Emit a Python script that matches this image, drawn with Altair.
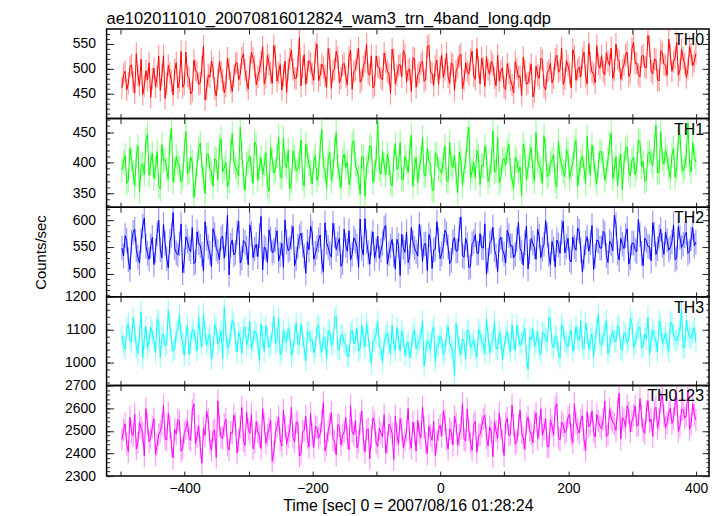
import math
import altair as alt
import pandas as pd

FONT = "Liberation Sans"
TITLE = "ae102011010_20070816012824_wam3_trn_4band_long.qdp"
X_TITLE = "Time [sec] 0 = 2007/08/16 01:28:24"
Y_TITLE = "Counts/sec"

# readings sampled every 5 s (series A) and the interleaved readings 2.5 s later (series B)
TIME_A_START = -498
TIME_B_START = -495.5
TIME_STEP = 5
X_DOMAIN = [-522, 420]
X_TICKS = [-500, -400, -300, -200, -100, 0, 100, 200, 300, 400]
X_LABELS = [-400, -200, 0, 200, 400]

TH0_A = [462, 495, 471, 508, 452, 487, 519, 466, 478, 443,
         501, 484, 457, 526, 470, 491, 448, 512, 475, 463,
         533, 482, 455, 497, 469, 504, 438, 488, 515, 461,
         479, 494, 452, 521, 473, 486,
         512, 489, 530, 476, 503, 521, 468, 497, 544, 483,
         509, 471, 526, 492, 458, 515, 499, 537, 481, 505,
         466, 528, 494, 511, 477, 549, 488, 502, 463, 519,
         496, 535, 472, 507, 485, 523, 459, 498, 541, 479,
         513, 490, 526, 467, 504, 482, 531, 495, 451, 518,
         487, 509, 536, 474, 500, 522, 463, 493, 515, 480,
         547, 491, 506, 469, 527, 498, 484, 512, 457, 503,
         529, 477, 495, 518, 486, 540, 470, 501, 524, 489,
         508, 466,
         476, 502, 459, 491, 468, 514, 483, 447, 497, 472,
         509, 455, 488, 521, 464, 493,
         511, 482, 527, 498, 469, 516, 490, 538, 477, 503,
         521, 486, 550, 494, 472, 509,
         526, 488, 515, 541, 497, 520, 479, 508, 533, 492,
         553, 511, 484, 527, 502, 545, 490, 518, 476, 531,
         506, 559, 495, 522, 487, 538, 510, 499, 529, 515]
TH0_B = [489, 458, 503, 474, 530, 467, 449, 496, 512, 481,
         464, 525, 487, 441, 507, 476, 498, 462, 534, 470,
         485, 450, 517, 493, 472, 545, 459, 483, 501, 446,
         514, 478, 466, 499, 455, 510,
         478, 521, 497, 460, 533, 505, 484, 514, 470, 527,
         492, 546, 475, 508, 487, 453, 519, 498, 481, 562,
         503, 469, 516, 490, 532, 476, 509, 486, 540, 461,
         499, 522, 481, 511, 468, 536, 494, 518, 473, 505,
         549, 487, 462, 525, 501, 478, 513, 490, 539, 470,
         506, 484, 528, 497, 455, 520, 488, 510, 475, 544,
         493, 467, 517, 502, 483, 531, 471, 508, 496, 524,
         460, 512, 489, 535, 479, 503, 521, 465, 498, 515,
         482, 527,
         495, 463, 510, 478, 452, 500, 486, 523, 469, 491,
         444, 505, 481, 517, 458, 497,
         472, 519, 493, 541, 480, 506, 462, 525, 498, 484,
         533, 470, 512, 489, 546, 501,
         494, 532, 507, 481, 549, 516, 498, 527, 485, 540,
         511, 489, 524, 503, 566, 495, 519, 478, 536, 509,
         487, 528, 514, 552, 497, 521, 483, 544, 506, 530]

TH1_A = [388, 412, 371, 405, 362, 427, 394, 381, 446, 399,
         374, 418, 357, 403, 389, 435, 368, 410, 392, 377,
         451, 386, 401, 365, 423, 396, 349, 414, 383, 407,
         372, 439, 391, 360, 419, 402, 385, 458, 376, 397,
         411, 366, 428, 393, 380, 416, 353, 404, 388, 442,
         375, 399, 421, 369, 408, 390, 437, 362, 413, 384,
         400, 371, 426, 395, 358, 417, 387, 449, 379, 405,
         392, 364, 431, 398, 376, 410, 345, 402, 423, 386,
         467, 381, 396, 414, 368, 405, 389, 433, 373, 400,
         419, 361, 408, 393, 441, 378, 402, 356, 415, 390,
         382, 427, 369, 398, 412, 351, 406, 388, 438, 375,
         401, 420, 364, 394, 410, 379, 452, 387, 367, 404,
         396, 430, 373, 409, 384, 346, 416, 392, 425, 370,
         403, 389, 444, 377, 399, 413, 360, 407, 386, 421,
         374, 398, 436, 383, 411, 366, 402, 429, 380, 395,
         417, 371, 405, 448, 388, 362, 414, 399, 426, 378,
         409, 391, 434, 402, 372, 418, 395, 461, 384, 406,
         421, 389, 412, 376, 439, 400, 393, 465, 385, 410]
TH1_B = [401, 366, 423, 384, 410, 352, 398, 437, 379, 415,
         391, 362, 429, 405, 373, 456, 387, 399, 368, 420,
         382, 409, 343, 396, 432, 375, 413, 390, 361, 404,
         427, 385, 400, 369, 447, 393, 378, 416, 355, 402,
         388, 434, 371, 408, 396, 363, 425, 383, 411, 377,
         440, 392, 357, 419, 386, 403, 374, 430, 397, 365,
         412, 381, 454, 389, 406, 370, 422, 394, 359, 414,
         401, 376, 436, 387, 348, 409, 393, 428, 368, 405,
         390, 418, 380, 399, 362, 431, 395, 372, 410, 384,
         445, 391, 367, 406, 379, 424, 398, 354, 413, 388,
         404, 371, 433, 392, 380, 417, 363, 402, 458, 386,
         375, 411, 395, 427, 369, 400, 384, 441, 376, 407,
         418, 389, 358, 403, 393, 430, 372, 411, 385, 449,
         396, 365, 420, 381, 405, 370, 435, 398, 377, 414,
         388, 426, 361, 402, 391, 443, 379, 408, 366, 419,
         399, 385, 432, 374, 410, 395, 356, 422, 387, 404,
         380, 437, 393, 369, 415, 402, 428, 383, 451, 397,
         408, 375, 424, 392, 446, 386, 412, 399, 433, 401]

TH2_A = [548, 571, 526, 559, 583, 531, 562, 604, 538, 552,
         517, 575, 545, 592, 528, 561, 614, 539, 556, 502,
         569, 547, 586, 522, 558, 536, 597, 550, 513, 573,
         541, 566, 529, 609, 553, 535, 577, 520, 562, 548,
         591, 530, 555, 571, 507, 546, 582, 539, 563, 524,
         557, 600, 543, 568, 515, 551, 576, 533, 560, 589,
         527, 549, 572, 504, 558, 538, 594, 545, 566, 521,
         553, 580, 536, 561, 512, 547, 603, 540, 557, 529,
         570, 544, 585, 518, 552, 535, 564, 497, 549, 578,
         532, 559, 541, 592, 523, 556, 573, 510, 546, 563,
         537, 581, 550, 525, 568, 543, 606, 531, 554, 514,
         560, 539, 575, 548, 499, 557, 587, 534, 562, 545,
         520, 571, 552, 536, 596, 541, 558, 509, 566, 549,
         583, 530, 555, 572, 517, 546, 563, 538, 598, 551,
         527, 568, 544, 579, 503, 558, 542, 590, 533, 561,
         548, 575, 521, 556, 609, 539, 566, 547, 584, 530,
         557, 541, 573, 515, 562, 550, 595, 536, 569, 553,
         578, 544, 560, 526, 588, 549, 571, 538, 565, 552]
TH2_B = [533, 562, 508, 577, 545, 520, 589, 551, 527, 568,
         543, 600, 530, 557, 511, 572, 548, 535, 593, 524,
         561, 541, 519, 578, 552, 505, 566, 539, 584, 547,
         526, 570, 555, 498, 563, 540, 598, 529, 558, 517,
         574, 546, 532, 607, 550, 521, 565, 543, 580, 536,
         512, 559, 547, 588, 528, 569, 553, 501, 545, 576,
         538, 563, 522, 595, 549, 531, 571, 556, 514, 583,
         542, 526, 567, 551, 602, 535, 560, 518, 578, 544,
         529, 557, 590, 537, 564, 509, 553, 574, 540, 521,
         586, 548, 533, 569, 555, 506, 562, 544, 597, 528,
         551, 575, 519, 560, 542, 582, 534, 566, 511, 556,
         573, 538, 549, 593, 525, 561, 545, 504, 568, 537,
         581, 552, 530, 564, 547, 516, 589, 541, 557, 527,
         570, 546, 599, 535, 560, 513, 554, 577, 539, 566,
         522, 550, 585, 544, 531, 569, 558, 508, 563, 548,
         579, 534, 561, 543, 592, 526, 555, 571, 518, 557,
         545, 601, 538, 566, 551, 524, 574, 547, 583, 536,
         562, 549, 591, 530, 568, 555, 577, 542, 586, 559]

TH3_A = [1082, 1041, 1119, 1063, 1097, 1028, 1155, 1074, 1046, 1108,
         1069, 1132, 1017, 1088, 1059, 1113, 1036, 1094, 1146, 1061,
         1080, 1025, 1103, 1067, 1139, 1050, 1091, 1073, 1011, 1117,
         1058, 1096, 1170, 1044, 1085, 1120, 1033, 1076, 1101, 1054,
         1126, 1065, 1089, 1007, 1079, 1112, 1047, 1093, 1060, 1135,
         1038, 1071, 1104, 1022, 1083, 1057, 1118, 1045, 1092, 1066,
         1030, 1108, 1052, 1077, 1013, 1095, 1061, 1141, 1040, 1084,
         1056, 1019, 1099, 1068, 1035, 1114, 1049, 1081, 998, 1072,
         1125, 1043, 1063, 1090, 1027, 1058, 1107, 1037, 1078, 1051,
         1016, 1086, 1042, 1069, 1128, 1032, 1060, 1095, 1004, 1053,
         1075, 1039, 1111, 1048, 962, 1082, 1025, 1064, 1100, 1046,
         1070, 1018, 1087, 1055, 1134, 1031, 1066, 1044, 1093, 1009,
         1078, 1057, 1116, 1038, 1083, 1062, 1105, 981, 1071, 1049,
         1097, 1026, 1088, 1064, 1130, 1045, 1076, 1015, 1102, 1059,
         1084, 1036, 1110, 1068, 1050, 1121, 1041, 1089, 1072, 1148,
         1054, 1095, 1029, 1081, 1067, 1113, 1043, 1092, 1061, 1136,
         1047, 1085, 1109, 1052, 1074, 1024, 1099, 1066, 1127, 1058,
         1091, 1035, 1118, 1070, 1083, 1162, 1049, 1096, 1075, 1107]
TH3_B = [1056, 1103, 1072, 1138, 1049, 1087, 1015, 1110, 1065, 1093,
         1031, 1124, 1078, 1052, 1160, 1070, 1041, 1099, 1083, 1022,
         1114, 1060, 1095, 1037, 1077, 1149, 1053, 1086, 1046, 1102,
         1071, 1013, 1090, 1058, 1131, 1066, 1092, 1029, 1109, 1075,
         1044, 1097, 1062, 1118, 1035, 1081, 1055, 1142, 1068, 1024,
         1100, 1063, 1087, 1040, 1121, 1057, 1079, 1006, 1094, 1070,
         1048, 1115, 1032, 1074, 1099, 1053, 1134, 1042, 1085, 1063,
         1021, 1091, 1058, 1106, 1045, 1077, 1120, 1036, 1066, 1088,
         1050, 1003, 1082, 1061, 1115, 1039, 1070, 1097, 1023, 1064,
         1044, 1101, 1057, 1079, 991, 1068, 1038, 1109, 1052, 1080,
         1026, 1087, 1061, 1035, 1119, 1047, 1073, 1012, 1094, 1056,
         1040, 1102, 1067, 1029, 1083, 1059, 1125, 1042, 1075, 1051,
         1096, 1034, 1069, 1113, 1054, 1087, 1020, 1078, 1104, 1063,
         1041, 1092, 1072, 1138, 1055, 1083, 1030, 1116, 1066, 1048,
         1099, 1061, 1077, 1127, 1043, 1090, 1070, 1017, 1104, 1059,
         1082, 1129, 1050, 1095, 1064, 1108, 1038, 1086, 1072, 1119,
         1060, 1101, 1046, 1088, 1139, 1069, 1080, 1033, 1112, 1074,
         1056, 1124, 1085, 1067, 1096, 1045, 1130, 1078, 1093, 1063]

TH0123_A = [2462, 2531, 2408, 2495, 2574, 2447, 2512, 2389, 2528, 2470,
            2553, 2436, 2498, 2612, 2459, 2517, 2380, 2486, 2541, 2425,
            2508, 2466, 2590, 2443, 2521, 2357, 2480, 2549, 2414, 2503,
            2632, 2471, 2527, 2438, 2494, 2569, 2402, 2515, 2456, 2583,
            2489, 2421, 2540, 2477, 2598, 2444, 2510, 2366, 2492, 2560,
            2432, 2519, 2475, 2604, 2451, 2536, 2399, 2501, 2468, 2577,
            2427, 2514, 2485, 2625, 2440, 2530, 2461, 2393, 2522, 2479,
            2558, 2417, 2496, 2545, 2452, 2588, 2407, 2509, 2473, 2536,
            2430, 2490, 2571, 2448, 2515, 2374, 2482, 2553, 2426, 2499,
            2466, 2538, 2411, 2487, 2606, 2445, 2520, 2458, 2391, 2505,
            2476, 2547, 2420, 2493, 2564, 2437, 2511, 2462, 2596, 2449,
            2528, 2405, 2484, 2552, 2470, 2517, 2386, 2500, 2579, 2455,
            2534, 2478, 2613, 2441, 2523, 2492, 2418, 2561, 2486, 2539,
            2464, 2597, 2507, 2432, 2548, 2481, 2620, 2459, 2526, 2501,
            2574, 2447, 2535, 2490, 2566, 2413, 2518, 2587, 2472, 2543,
            2508, 2631, 2484, 2556, 2529, 2598, 2463, 2547, 2611, 2495,
            2569, 2521, 2642, 2503, 2585, 2538, 2475, 2604, 2552, 2660,
            2514, 2578, 2532, 2625, 2497, 2592, 2556, 2680, 2529, 2571]
TH0123_B = [2503, 2441, 2560, 2478, 2420, 2537, 2491, 2598, 2452, 2516,
            2395, 2482, 2527, 2463, 2578, 2434, 2505, 2550, 2410, 2492,
            2543, 2457, 2619, 2475, 2429, 2511, 2586, 2448, 2497, 2383,
            2524, 2466, 2551, 2415, 2488, 2532, 2459, 2603, 2436, 2506,
            2573, 2450, 2494, 2422, 2530, 2479, 2547, 2405, 2518, 2461,
            2590, 2443, 2503, 2471, 2539, 2388, 2496, 2564, 2428, 2485,
            2520, 2467, 2545, 2412, 2500, 2581, 2454, 2527, 2437, 2495,
            2468, 2611, 2482, 2425, 2533, 2463, 2500, 2376, 2557, 2446,
            2512, 2474, 2402, 2529, 2488, 2565, 2441, 2507, 2459, 2598,
            2423, 2489, 2547, 2470, 2515, 2399, 2480, 2542, 2451, 2524,
            2587, 2460, 2509, 2437, 2533, 2480, 2621, 2455, 2502, 2414,
            2541, 2478, 2519, 2568, 2433, 2497, 2540, 2466, 2512, 2391,
            2555, 2487, 2524, 2453, 2591, 2470, 2531, 2502, 2446, 2579,
            2515, 2480, 2553, 2428, 2521, 2604, 2469, 2538, 2491, 2560,
            2485, 2619, 2507, 2546, 2461, 2584, 2530, 2496, 2572, 2520,
            2549, 2475, 2597, 2538, 2501, 2666, 2559, 2516, 2582, 2543,
            2610, 2527, 2565, 2489, 2633, 2552, 2588, 2511, 2627, 2566,
            2537, 2601, 2553, 2645, 2520, 2594, 2568, 2506, 2619, 2548]

NAMES = ["TH0", "TH1", "TH2", "TH3", "TH0123"]
SERIES_A = [TH0_A, TH1_A, TH2_A, TH3_A, TH0123_A]
SERIES_B = [TH0_B, TH1_B, TH2_B, TH3_B, TH0123_B]
ERRORS = [22, 20, 23, 33, 50]
COLORS = ["#ff0000", "#00ff00", "#0000ff", "#00ffff", "#ff00ff"]
Y_DOMAINS = [[401, 579], [327, 472], [457, 624], [932, 1200], [2300, 2700]]
Y_MAJOR = [[450, 500, 550], [350, 400, 450], [500, 550, 600],
           [1000, 1100, 1200], [2300, 2400, 2500, 2600, 2700]]
Y_MINOR_STEP = [10, 10, 10, 20, 20]
HEIGHTS = [90, 89, 90, 89, 91]
W = 605


def panel(i):
    name, err = NAMES[i], ERRORS[i]
    color, dom, major, mstep, H = COLORS[i], Y_DOMAINS[i], Y_MAJOR[i], Y_MINOR_STEP[i], HEIGHTS[i]
    a, b = SERIES_A[i], SERIES_B[i]
    dfa = pd.DataFrame({"t": [TIME_A_START + TIME_STEP * k for k in range(len(a))], "v": a})
    dfb = pd.DataFrame({"t": [TIME_B_START + TIME_STEP * k for k in range(len(b))], "v": b})
    df = pd.concat([dfa, dfb]).sort_values("t").reset_index(drop=True)
    df["lo"] = df["v"] - err
    df["hi"] = df["v"] + err
    minor = list(range(int(math.ceil(dom[0] / mstep) * mstep), dom[1] + 1, mstep))
    xs = alt.Scale(domain=X_DOMAIN, nice=False, zero=False)
    ys = alt.Scale(domain=dom, nice=False, zero=False)
    base = alt.Chart(df)

    def tick_x(orient):
        return alt.Axis(orient=orient, offset=-H, values=X_TICKS, labels=False,
                        tickSize=5, domain=False, title=None)

    def tick_y(orient, vals, size):
        return alt.Axis(orient=orient, offset=-W, values=vals, labels=False,
                        tickSize=size, domain=False, title=None)

    label_y = dict(orient="left", values=major, ticks=False, domain=False,
                   labelPadding=11, format="d")
    if i == 2:
        label_y.update(title=Y_TITLE, titlePadding=24)
    else:
        label_y.update(title=None)

    errs = base.mark_rule(color=color, opacity=0.4, strokeWidth=1.2, clip=True).encode(
        x=alt.X("t:Q", scale=xs, axis=tick_x("top")),
        y=alt.Y("lo:Q", scale=ys, axis=alt.Axis(**label_y)),
        y2="hi:Q",
    )
    line = base.mark_line(color=color, strokeWidth=1, clip=True).encode(
        x=alt.X("t:Q", scale=xs, axis=tick_x("bottom")),
        y=alt.Y("v:Q", scale=ys, axis=tick_y("right", major, 7)),
    )
    if i == len(NAMES) - 1:
        xlab = alt.Axis(orient="bottom", values=X_LABELS, ticks=False, domain=False,
                        labelPadding=5, title=X_TITLE, titlePadding=3, format="d",
                        titleFontSize=16)
    else:
        xlab = None
    d1 = base.mark_line(opacity=0).encode(
        x=alt.X("t:Q", scale=xs, axis=xlab),
        y=alt.Y("v:Q", scale=ys, axis=tick_y("right", minor, 3)),
    )
    d2 = base.mark_line(opacity=0).encode(
        x=alt.X("t:Q", scale=xs, axis=None),
        y=alt.Y("v:Q", scale=ys, axis=tick_y("left", major, 7)),
    )
    d3 = base.mark_line(opacity=0).encode(
        x=alt.X("t:Q", scale=xs, axis=None),
        y=alt.Y("v:Q", scale=ys, axis=tick_y("left", minor, 3)),
    )
    lab = alt.Chart(pd.DataFrame({"name": [name]})).mark_text(
        align="right", baseline="top", fontSize=16, font=FONT, color="black"
    ).encode(x=alt.value(W - 5), y=alt.value(3), text="name:N")

    ch = alt.layer(errs, line, d1, d2, d3, lab).resolve_axis(
        x="independent", y="independent"
    ).properties(width=W, height=H)
    if i == 0:
        ch = ch.properties(title=alt.Title(TITLE, anchor="start", frame="group", offset=1))
    return ch


chart = alt.vconcat(*[panel(i) for i in range(len(NAMES))], spacing=0,
                    bounds="flush").properties(
    padding={"left": 24, "top": 1, "right": 5, "bottom": 0},
    background="white",
).configure_view(
    stroke="black", strokeWidth=1.5
).configure_axis(
    grid=False, labelFont=FONT, labelFontSize=14, labelColor="black",
    titleFont=FONT, titleFontSize=15, titleFontWeight="normal", titleColor="black",
    tickColor="#222222", tickWidth=1,
).configure_title(
    font=FONT, fontSize=16.5, fontWeight="normal", color="black"
)

chart.save("out.html", embed_options={"renderer": "svg", "actions": False})
